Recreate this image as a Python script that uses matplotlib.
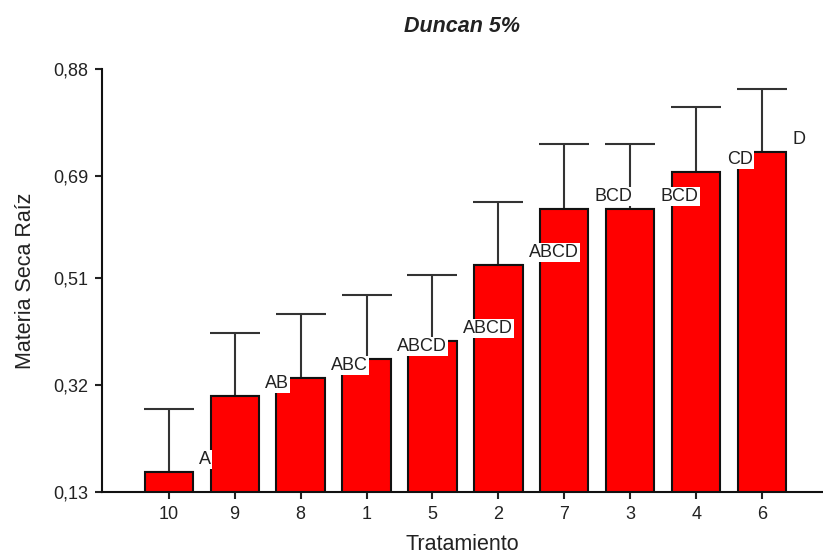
import matplotlib
matplotlib.use("Agg")
import matplotlib.pyplot as plt
import numpy as np

plt.rcParams['font.family'] = ['Liberation Sans', 'DejaVu Sans']

# Duncan test results, treatments sorted by mean
tratamientos = ["10", "9", "8", "1", "5", "2", "7", "3", "4", "6"]
medias = [0.165, 0.300, 0.332, 0.366, 0.398, 0.532, 0.632, 0.632, 0.697, 0.733]
error_sup = [0.112, 0.112, 0.114, 0.113, 0.117, 0.112, 0.115, 0.115, 0.116, 0.112]
letras = ["A", "AB", "ABC", "ABCD", "ABCD", "ABCD", "BCD", "BCD", "CD", "D"]
y_ticks = [0.13, 0.32, 0.51, 0.69, 0.88]

base = y_ticks[0]
x = np.arange(len(tratamientos))
alturas = np.array(medias) - base

fig = plt.figure(figsize=(8.23, 5.56), dpi=100)
ax = fig.add_axes([102 / 823, 64 / 556, 721 / 823, 423 / 556])

ax.errorbar(x, medias, yerr=[np.zeros(len(x)), error_sup], fmt='none',
            ecolor='#333333', elinewidth=1.5, capsize=18, capthick=1.5, zorder=2)
ax.bar(x, alturas, bottom=base, width=0.73, color='#ff0000',
       edgecolor='#111111', linewidth=1.5, zorder=3)

# letter groups, white box on top of bars and error lines
for xi, m, letra in zip(x, medias, letras):
    ax.annotate(letra, (xi + 0.46, m), xytext=(0, 3), textcoords='offset points',
                ha='left', va='bottom', fontsize=13, color='#222222', zorder=5,
                bbox=dict(boxstyle='square,pad=0.06', fc='white', ec='none'))

ax.set_xlim(-1.01, 9.92)
ax.set_ylim(base, y_ticks[-1])
ax.set_xticks(x)
ax.set_xticklabels(tratamientos)
ax.set_yticks(y_ticks)
ax.set_yticklabels([f"{t:.2f}".replace('.', ',') for t in y_ticks])
ax.tick_params(axis='both', labelsize=13, colors='#222222', length=5, width=1.5, pad=5)

for s in ['top', 'right']:
    ax.spines[s].set_visible(False)
for s in ['left', 'bottom']:
    ax.spines[s].set_linewidth(1.5)
    ax.spines[s].set_color('#111111')

ax.set_title("Duncan 5%", fontsize=15.5, fontweight='bold', fontstyle='italic',
             color='#222222', pad=27)
ax.set_xlabel("Tratamiento", fontsize=15.5, color='#222222', labelpad=8)
ax.set_ylabel("Materia Seca Raíz", fontsize=15.5, color='#222222', labelpad=12)

fig.savefig("out.png", dpi=100)
